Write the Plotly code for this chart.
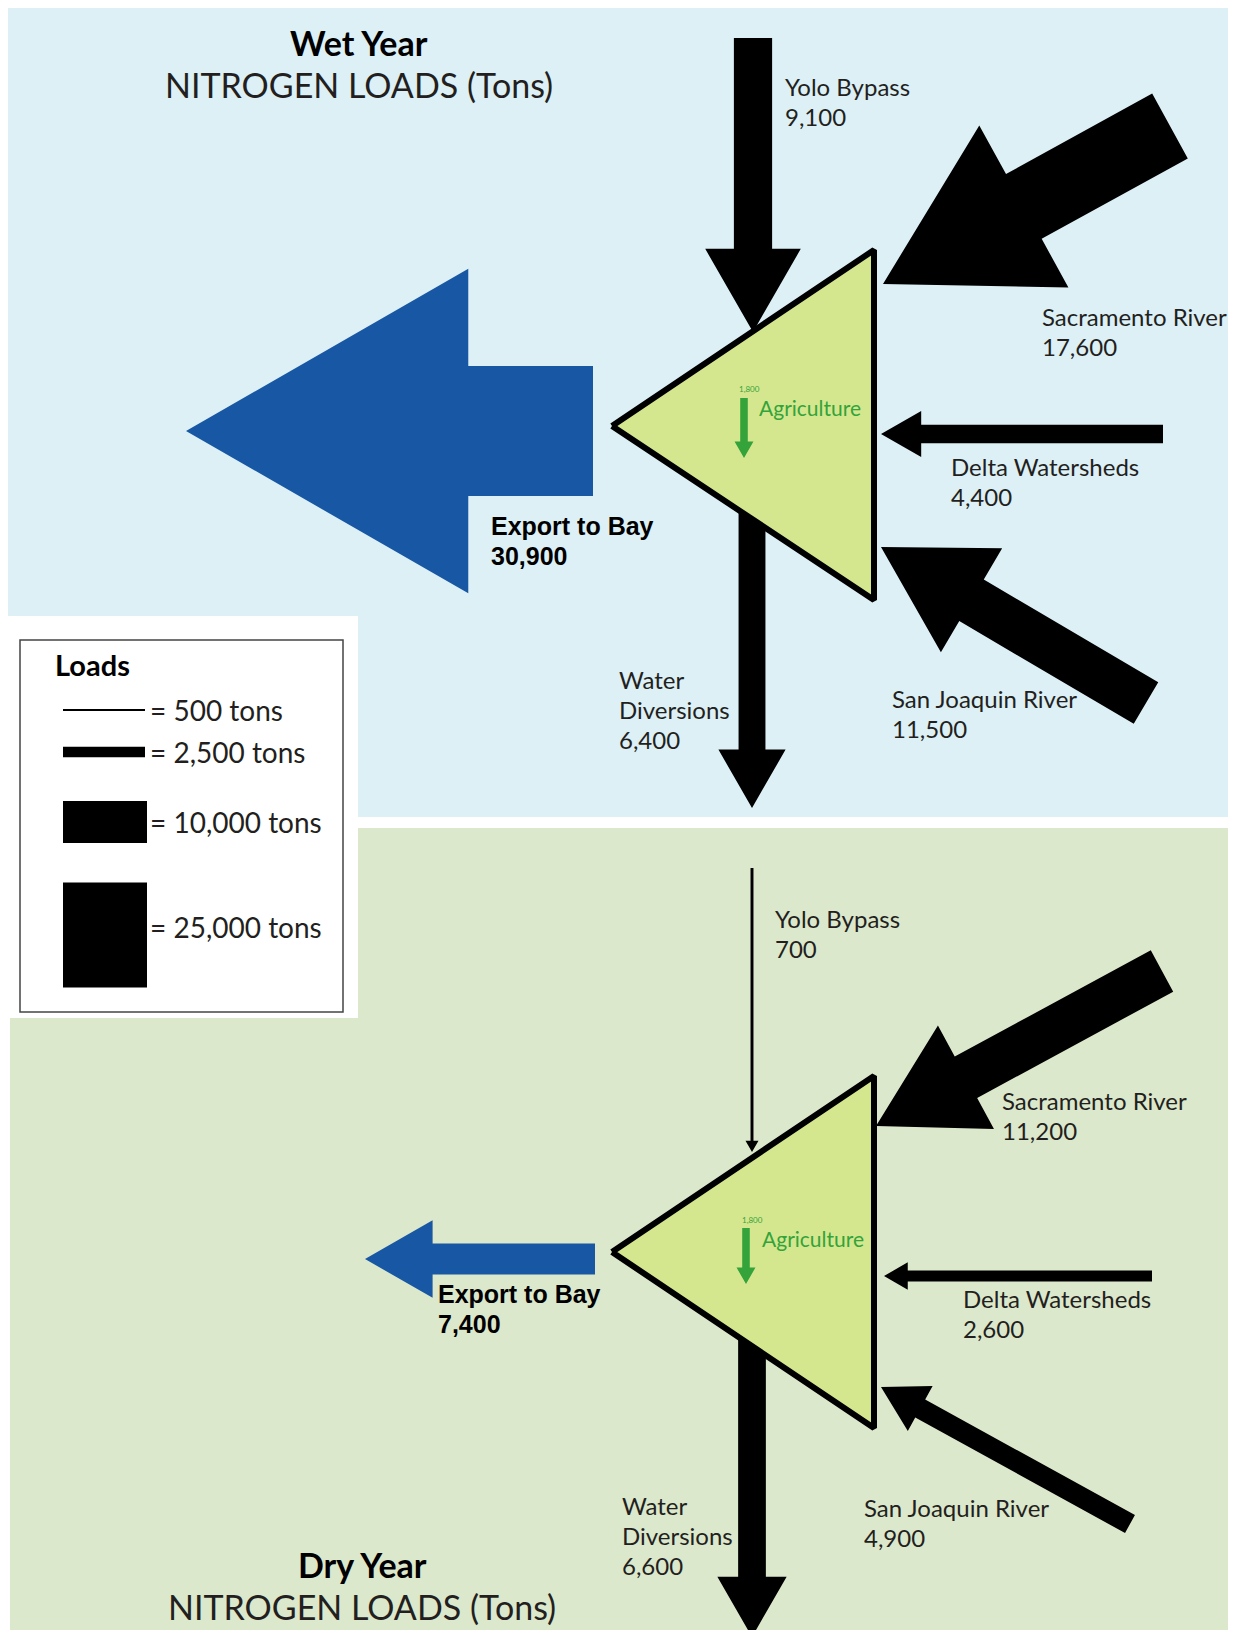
import numpy as np
import plotly.graph_objects as go

# nitrogen loads (tons)
flows = ["Yolo Bypass", "Sacramento River", "Delta Watersheds", "San Joaquin River",
         "Water Diversions", "Export to Bay", "Agriculture"]
wet_loads = [9100, 17600, 4400, 11500, 6400, 30900, 1800]
dry_loads = [700, 11200, 2600, 4900, 6600, 7400, 1800]

legend_loads = [500, 2500, 10000, 25000]
legend_labels = ["= 500 tons", "= 2,500 tons", "= 10,000 tons", "= 25,000 tons"]

PX_PER_TON = 0.0042   # arrow width in px per ton
W, H = 1236, 1638     # page size
PAD = 8               # default body margin of the html page

# layout of each panel: arrow tail/tip and label anchor (page pixels, y down)
wet_geom = {
    "Yolo Bypass": ((753, 38), (753, 332)),
    "Sacramento River": ((1170, 126), (883, 284)),
    "Delta Watersheds": ((1163, 434), (881, 434)),
    "San Joaquin River": ((1146, 703), (881, 547)),
    "Water Diversions": ((752, 470), (752, 808)),
    "Export to Bay": ((593, 431), (186, 431)),
    "Agriculture": ((744, 398), (744, 458)),
}
dry_geom = {
    "Yolo Bypass": ((752, 868), (752, 1152)),
    "Sacramento River": ((1162, 971), (876, 1126)),
    "Delta Watersheds": ((1152, 1276), (884, 1276)),
    "San Joaquin River": ((1130, 1524), (881, 1387)),
    "Water Diversions": ((752, 1300), (752, 1637)),
    "Export to Bay": ((595, 1259), (365, 1259)),
    "Agriculture": ((746, 1228), (746, 1284)),
}
wet_labels = {
    "Yolo Bypass": (783, 86), "Sacramento River": (1040, 316),
    "Delta Watersheds": (949, 466), "San Joaquin River": (890, 698),
    "Water Diversions": (617, 679), "Export to Bay": (489, 526),
    "Agriculture": (757, 407),
}
dry_labels = {
    "Yolo Bypass": (773, 918), "Sacramento River": (1000, 1100),
    "Delta Watersheds": (961, 1298), "San Joaquin River": (862, 1507),
    "Water Diversions": (620, 1505), "Export to Bay": (436, 1294),
    "Agriculture": (760, 1238),
}
wet_tri = [(612, 426), (874, 250), (874, 600)]
dry_tri = [(612, 1252), (874, 1076), (874, 1428)]

BLUE = "#1857a4"
GREEN = "#33a33a"
TEXT = "#231f20"
LABEL_FONT = "Lato"
LBL = 24


def arrow_xy(tail, tip, tons):
    w = tons * PX_PER_TON
    hw = max(2.5 * w, 13)
    hl = 0.87 * hw
    t = np.array(tail, float)
    p = np.array(tip, float)
    u = (p - t) / np.linalg.norm(p - t)
    n = np.array([-u[1], u[0]])
    b = p - u * hl
    pts = [t + n * w / 2, b + n * w / 2, b + n * hw / 2, p,
           b - n * hw / 2, b - n * w / 2, t - n * w / 2, t + n * w / 2]
    return [q[0] for q in pts], [q[1] for q in pts]


fig = go.Figure()
annotations = []


def txt(x, y, s, size, color=TEXT, family=LABEL_FONT, anchor="left"):
    annotations.append(dict(x=x, y=y, text=s, showarrow=False, xanchor=anchor,
                            yanchor="middle", font=dict(size=size, color=color, family=family)))


def panel(loads, geom, labels, tri):
    # big arrows first, triangle on top
    for name, v in zip(flows, loads):
        if name == "Agriculture":
            continue
        xs, ys = arrow_xy(*geom[name], v)
        col = BLUE if name == "Export to Bay" else "black"
        fig.add_trace(go.Scatter(x=xs, y=ys, mode="lines", fill="toself", fillcolor=col,
                                 line=dict(width=0, color=col), hoverinfo="skip"))
    tx = [p[0] for p in tri] + [tri[0][0]]
    ty = [p[1] for p in tri] + [tri[0][1]]
    fig.add_trace(go.Scatter(x=tx, y=ty, mode="lines", fill="toself", fillcolor="#d5e78e",
                             line=dict(width=6, color="black"), hoverinfo="skip"))
    ag = loads[flows.index("Agriculture")]
    xs, ys = arrow_xy(*geom["Agriculture"], ag)
    fig.add_trace(go.Scatter(x=xs, y=ys, mode="lines", fill="toself", fillcolor=GREEN,
                             line=dict(width=0, color=GREEN), hoverinfo="skip"))

    for name, v in zip(flows, loads):
        x, y = labels[name]
        val = f"{v:,}"
        if name == "Agriculture":
            txt(x, y, "Agriculture", 21, GREEN)
            txt(x - 20, y - 18, val, 8, GREEN)
        elif name == "Export to Bay":
            txt(x, y, "<b>Export to Bay</b>", 25, "black", "Liberation Sans")
            txt(x, y + 30, f"<b>{val}</b>", 25, "black", "Liberation Sans")
        elif name == "Water Diversions":
            txt(x, y, "Water", LBL)
            txt(x, y + 30, "Diversions", LBL)
            txt(x, y + 60, val, LBL)
        else:
            txt(x, y, name, LBL)
            txt(x, y + 30, val, LBL)


shapes = [
    dict(type="rect", x0=6, x1=W, y0=7, y1=817, fillcolor="#dcf0f6", line_width=0, layer="below"),
    dict(type="rect", x0=10, x1=W, y0=828, y1=H, fillcolor="#dce8cc", line_width=0, layer="below"),
    dict(type="rect", x0=0, x1=358, y0=616, y1=1018, fillcolor="white", line_width=0, layer="below"),
    dict(type="rect", x0=20, x1=343, y0=640, y1=1012, fillcolor="white",
         line=dict(color="#444444", width=1.5), layer="below"),
]

panel(wet_loads, wet_geom, wet_labels, wet_tri)
panel(dry_loads, dry_geom, dry_labels, dry_tri)

# titles
txt(359, 42, "<b>Wet Year</b>", 34, "black", anchor="center")
txt(359, 84, "NITROGEN LOADS (Tons)", 34, TEXT, anchor="center")
txt(362, 1564, "<b>Dry Year</b>", 34, "black", anchor="center")
txt(362, 1606, "NITROGEN LOADS (Tons)", 34, TEXT, anchor="center")

# legend of line widths
txt(53, 664, "<b>Loads</b>", 29, "black")
leg_y = [710, 752, 822, 935]
leg_ty = [710, 752, 822, 927]
for v, lab, yc, ty in zip(legend_loads, legend_labels, leg_y, leg_ty):
    h = v * PX_PER_TON
    x1 = 145 if v < 5000 else 147
    fig.add_trace(go.Scatter(x=[63, x1, x1, 63, 63],
                             y=[yc - h / 2, yc - h / 2, yc + h / 2, yc + h / 2, yc - h / 2],
                             mode="lines", fill="toself", fillcolor="black",
                             line=dict(width=0, color="black"), hoverinfo="skip"))
    txt(148, ty, lab, 28)

# figure sits inside the page's 8px body margin; axes map to page pixels
fig.update_layout(
    width=W - 2 * PAD, height=H - 2 * PAD, margin=dict(l=0, r=0, t=0, b=0),
    paper_bgcolor="white", plot_bgcolor="white", showlegend=False,
    xaxis=dict(range=[PAD, W - PAD], visible=False, fixedrange=True),
    yaxis=dict(range=[H - PAD, PAD], visible=False, fixedrange=True),
    shapes=shapes, annotations=annotations,
)

fig.write_html("out.html")
